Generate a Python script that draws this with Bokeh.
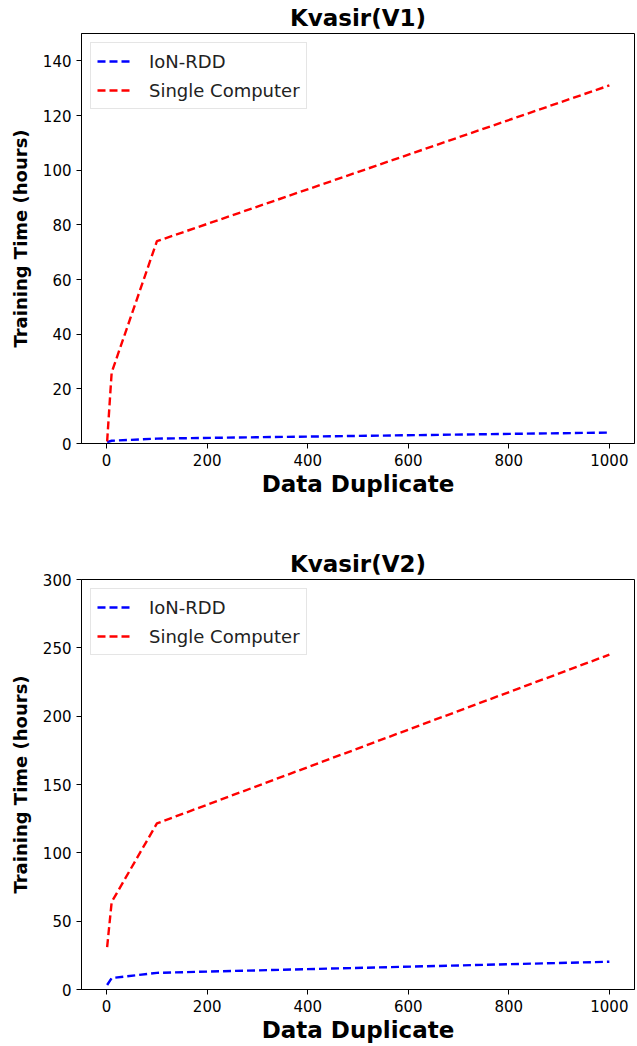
from bokeh.plotting import figure
from bokeh.layouts import column
from bokeh.models import Range1d, FixedTicker
from bokeh.embed import file_html
from bokeh.resources import INLINE

# ---- data ----
duplicates = [1, 10, 100, 1000]
v1_ion_rdd = [0.5, 1.0, 1.8, 4.0]
v1_single = [0.8, 26, 74, 131]
v2_ion_rdd = [3.3, 8.4, 12.2, 20.3]
v2_single = [31, 64, 121.5, 245]
x_ticks = [0, 200, 400, 600, 800, 1000]
v1_y_ticks = [0, 20, 40, 60, 80, 100, 120, 140]
v2_y_ticks = [0, 50, 100, 150, 200, 250, 300]

FONT = "DejaVu Sans"


def make_plot(title, ion, single, yticks, ymax, top_border, bottom_border):
    p = figure(
        width=81 + 553 + 2, height=top_border + 410 + bottom_border,
        min_border_left=81, min_border_right=2, min_border_top=top_border,
        min_border_bottom=bottom_border,
        x_range=Range1d(-50, 1050), y_range=Range1d(0, ymax),
        output_backend="svg", toolbar_location=None, title=title,
    )
    p.title.text_font = FONT
    p.title.text_font_size = "23px"
    p.title.text_font_style = "bold"
    p.title.align = "center"
    p.title.text_color = "black"
    p.title.standoff = 5
    p.title.offset = 0

    p.line(duplicates, ion, color="blue", line_width=2.4, line_dash="8 4",
           legend_label="IoN-RDD")
    p.line(duplicates, single, color="red", line_width=2.4, line_dash="8 4",
           legend_label="Single Computer")

    p.xgrid.visible = False
    p.ygrid.visible = False
    p.outline_line_color = "black"
    p.outline_line_width = 1
    p.outline_line_alpha = 1
    p.background_fill_color = "white"
    p.border_fill_color = "white"

    p.xaxis.ticker = FixedTicker(ticks=x_ticks)
    p.yaxis.ticker = FixedTicker(ticks=yticks)
    for ax in (p.xaxis[0], p.yaxis[0]):
        ax.major_tick_in = 0
        ax.major_tick_out = 5
        ax.minor_tick_in = 0
        ax.minor_tick_out = 0
        ax.axis_line_color = "black"
        ax.major_tick_line_color = "black"
        ax.major_label_text_font = FONT
        ax.major_label_text_font_size = "15px"
        ax.major_label_text_color = "black"
        ax.major_label_standoff = 5
        ax.axis_label_text_font = FONT
        ax.axis_label_text_font_style = "bold"
        ax.axis_label_text_color = "black"
    p.xaxis.axis_label = "Data Duplicate"
    p.xaxis.axis_label_text_font_size = "23px"
    p.xaxis.axis_label_standoff = 2
    p.yaxis.axis_label = "Training Time (hours)"
    p.yaxis.axis_label_text_font_size = "18px"
    p.yaxis.axis_label_standoff = 9

    lg = p.legend[0]
    lg.location = "top_left"
    lg.margin = 9
    lg.padding = 6
    lg.spacing = 5
    lg.glyph_width = 34
    lg.glyph_height = 24
    lg.label_height = 24
    lg.label_standoff = 18
    lg.label_text_font = FONT
    lg.label_text_font_size = "18px"
    lg.label_text_color = "#222222"
    lg.border_line_color = "#cccccc"
    lg.border_line_width = 1
    lg.background_fill_color = "white"
    lg.background_fill_alpha = 1
    return p


p1 = make_plot("Kvasir(V1)", v1_ion_rdd, v1_single, v1_y_ticks, 150, 33, 103)
p2 = make_plot("Kvasir(V2)", v2_ion_rdd, v2_single, v2_y_ticks, 300, 33, 57)

layout = column(p1, p2, spacing=0)
open("out.html", "w").write(file_html(layout, INLINE))
